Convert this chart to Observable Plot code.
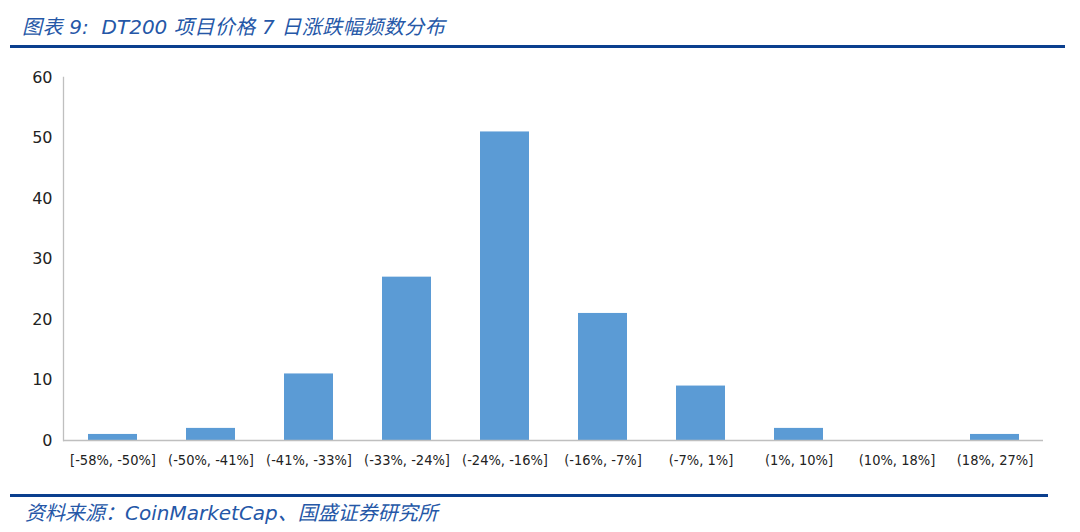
<!DOCTYPE html>
<html>
<head>
<meta charset="utf-8">
<script src="https://cdn.jsdelivr.net/npm/d3@7"></script>
<script src="https://cdn.jsdelivr.net/npm/@observablehq/plot@0.6"></script>
<style>
  html, body { margin: 0; padding: 0; background: #fff; }
  body { width: 1080px; height: 532px; position: relative; overflow: hidden; }
  #title { position: absolute; left: 22px; top: 11px; font-family: "DejaVu Sans", "Noto Sans CJK SC", sans-serif; font-style: italic; font-size: 20px; color: #2557a7; white-space: nowrap; }
  #title .cjk, #source .cjk { font-family: "Noto Sans CJK SC", sans-serif; }
  #title .cjk { letter-spacing: 0.5px; }
  #topline { position: absolute; left: 10px; top: 45px; width: 1055px; height: 3px; background: #0b3f8e; }
  #chart { position: absolute; left: 0; top: 60px; }
  #botline { position: absolute; left: 10px; top: 494px; width: 1038px; height: 3px; background: #0b3f8e; }
  #source { position: absolute; left: 25px; top: 497px; font-family: "DejaVu Sans", "Noto Sans CJK SC", sans-serif; font-style: italic; font-size: 20px; color: #2557a7; white-space: nowrap; }
</style>
</head>
<body>
<div id="title"><span class="cjk">图表</span> 9:&nbsp; DT200 <span class="cjk">项目价格</span> 7 <span class="cjk">日涨跌幅频数分布</span></div>
<div id="topline"></div>
<div id="chart"></div>
<div id="botline"></div>
<div id="source"><span class="cjk">资料来源：</span>CoinMarketCap<span class="cjk">、国盛证券研究所</span></div>
<script>
const categories = ["[-58%, -50%]", "(-50%, -41%]", "(-41%, -33%]", "(-33%, -24%]", "(-24%, -16%]", "(-16%, -7%]", "(-7%, 1%]", "(1%, 10%]", "(10%, 18%]", "(18%, 27%]"];
const counts = [1, 2, 11, 27, 51, 21, 9, 2, 0, 1];
const yTicks = [0, 10, 20, 30, 40, 50, 60];

const data = categories.map((c, i) => ({bin: c, count: counts[i]}));

const chart = Plot.plot({
  width: 1080,
  height: 420,
  marginTop: 17,
  marginBottom: 40,
  marginLeft: 63,
  marginRight: 37,
  style: {fontFamily: "DejaVu Sans, sans-serif", background: "#fff", overflow: "visible"},
  x: {domain: categories, paddingInner: 0.5, paddingOuter: 0.25, align: 0.5, label: null},
  y: {domain: [0, 60], label: null},
  marks: [
    Plot.barY(data, {x: "bin", y: "count", fill: "#5b9bd5"}),
    Plot.frame({anchor: "left", stroke: "#bfbfbf", strokeWidth: 1.3}),
    Plot.ruleY([0], {stroke: "#bfbfbf", strokeWidth: 1.3}),
    Plot.axisY(yTicks, {tickSize: 0, tickPadding: 11, fontSize: 16, fill: "#222", label: null}),
    Plot.axisX({tickSize: 0, tickPadding: 14, fontSize: 14.5, fontFamily: "DejaVu Sans Condensed, Liberation Sans, sans-serif", fill: "#222", label: null})
  ]
});
document.getElementById("chart").appendChild(chart);
</script>
</body>
</html>
